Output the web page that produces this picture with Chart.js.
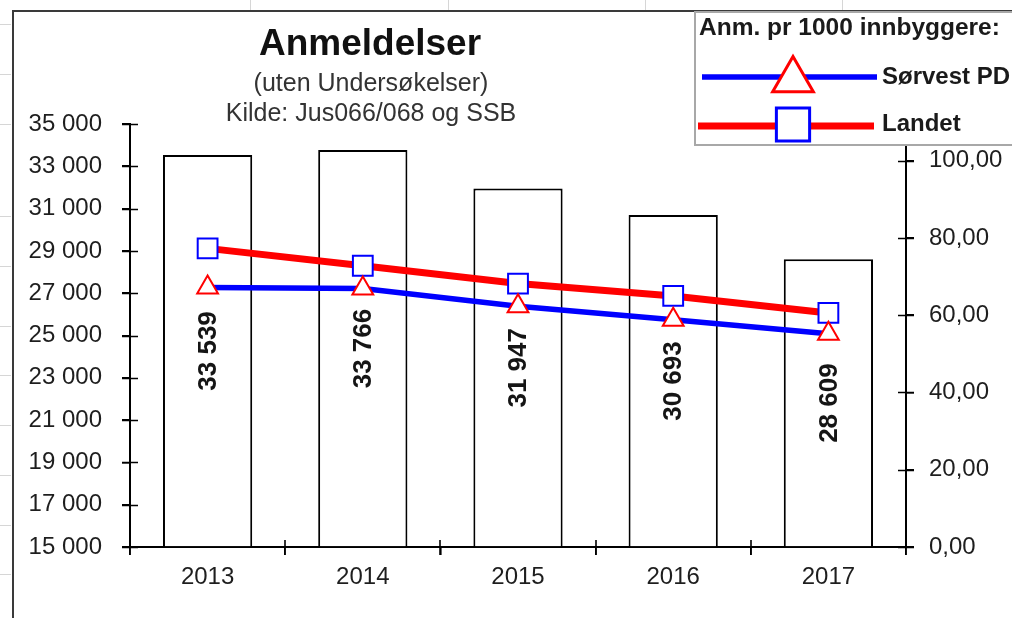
<!DOCTYPE html>
<html>
<head>
<meta charset="utf-8">
<script src="https://cdn.jsdelivr.net/npm/chart.js@4.4.1/dist/chart.umd.min.js"></script>
<style>
  html, body { margin: 0; padding: 0; background: #fff; overflow: hidden; }
  canvas { display: block; }
</style>
</head>
<body>
<canvas id="chart" width="1012" height="618"></canvas>
<script>
// --- data ---
const years = ['2013', '2014', '2015', '2016', '2017'];
const anmeldelser = [33539, 33766, 31947, 30693, 28609];
const sorvestPD = [67.2, 66.9, 62.3, 58.8, 55.2];
const landet = [77.3, 72.8, 68.2, 65.0, 60.6];
const leftRange = [15000, 35000, 2000];
const rightRange = [0, 109.5, 20];
const titleText = 'Anmeldelser';
const subtitleLines = ['(uten Undersøkelser)', 'Kilde: Jus066/068 og SSB'];
const legendTitle = 'Anm. pr 1000 innbyggere:';
const seriesNames = ['Sørvest PD', 'Landet'];

const FONT = "'Liberation Sans', Arial, sans-serif";
const fmtThousands = v => String(Math.round(v)).replace(/\B(?=(\d{3})+(?!\d))/g, ' ');
const fmtRate = v => v.toFixed(2).replace('.', ',');

// little helper for the marker shapes (legend uses bigger ones)
function marker(ctx, style, x, y, r, stroke, lw) {
    ctx.save();
    ctx.beginPath();
    if (style === 'triangle') {
        for (let k = 0; k < 3; k++) {
            const a = k * 2 * Math.PI / 3;
            const px = x + Math.sin(a) * r, py = y - Math.cos(a) * r;
            k ? ctx.lineTo(px, py) : ctx.moveTo(px, py);
        }
        ctx.closePath();
    } else {
        const s = Math.SQRT1_2 * r;
        ctx.rect(x - s, y - s, 2 * s, 2 * s);
    }
    ctx.fillStyle = '#fff';
    ctx.fill();
    ctx.lineWidth = lw;
    ctx.strokeStyle = stroke;
    ctx.stroke();
    ctx.restore();
}

const sheetPlugin = {
    id: 'sheet',
    beforeDraw(chart) {
        const ctx = chart.ctx;
        ctx.save();
        ctx.fillStyle = '#fff';
        ctx.fillRect(0, 0, chart.width, chart.height);
        // faint spreadsheet grid peeking round the chart object
        ctx.strokeStyle = '#d6d6d6';
        ctx.lineWidth = 1;
        [250, 448, 645, 842].forEach(x => {
            ctx.beginPath(); ctx.moveTo(x + 0.5, 0); ctx.lineTo(x + 0.5, 11); ctx.stroke();
        });
        [24, 74, 124, 216, 266, 326, 375, 425, 475, 525, 574].forEach(y => {
            ctx.beginPath(); ctx.moveTo(0, y + 0.5); ctx.lineTo(11, y + 0.5); ctx.stroke();
        });
        // chart object frame
        ctx.strokeStyle = '#3a3a3a';
        ctx.lineWidth = 2;
        ctx.beginPath();
        ctx.moveTo(13, chart.height);
        ctx.lineTo(13, 11);
        ctx.lineTo(chart.width, 11);
        ctx.stroke();
        ctx.restore();
    }
};

const crossTicksPlugin = {
    id: 'crossTicks',
    beforeDatasetsDraw(chart) {
        const ctx = chart.ctx;
        const { left, right, bottom } = chart.chartArea;
        const { x, y, y1 } = chart.scales;
        ctx.save();
        ctx.strokeStyle = '#000';
        ctx.lineWidth = 1.6;
        ctx.beginPath();
        y.ticks.forEach(t => {
            const p = Math.round(y.getPixelForValue(t.value)) + 0.5;
            ctx.moveTo(left - 8, p); ctx.lineTo(left + 8, p);
        });
        y1.ticks.forEach(t => {
            const p = Math.round(y1.getPixelForValue(t.value)) + 0.5;
            ctx.moveTo(right - 8, p); ctx.lineTo(right + 8, p);
        });
        for (let i = 0; i <= years.length; i++) {
            const p = Math.round(x.getPixelForValue(i - 0.5));
            ctx.moveTo(p, bottom - 7); ctx.lineTo(p, bottom + 8);
        }
        ctx.stroke();
        ctx.restore();
    }
};

const barLabelPlugin = {
    id: 'barLabels',
    afterDatasetsDraw(chart) {
        const ctx = chart.ctx;
        const meta = chart.getDatasetMeta(0);
        const base = chart.scales.y.getPixelForValue(leftRange[0]);
        ctx.save();
        ctx.font = 'bold 26px ' + FONT;
        ctx.fillStyle = '#151515';
        ctx.textAlign = 'center';
        ctx.textBaseline = 'middle';
        meta.data.forEach((bar, i) => {
            ctx.save();
            ctx.translate(bar.x, (bar.y + base) / 2);
            ctx.rotate(-Math.PI / 2);
            ctx.fillText(fmtThousands(anmeldelser[i]), 0, 1);
            ctx.restore();
        });
        ctx.restore();
    }
};

const headingPlugin = {
    id: 'headings',
    afterDraw(chart) {
        const ctx = chart.ctx;
        ctx.save();
        ctx.textAlign = 'center';
        ctx.textBaseline = 'middle';
        ctx.fillStyle = '#111';
        ctx.font = 'bold 37px ' + FONT;
        ctx.fillText(titleText, 370, 45);
        ctx.fillStyle = '#333';
        ctx.font = '25px ' + FONT;
        ctx.fillText(subtitleLines[0], 371, 84);
        ctx.fillText(subtitleLines[1], 371, 114);

        // legend box, top right, partly cut off like the screenshot
        ctx.fillStyle = '#fff';
        ctx.fillRect(695, 12, 330, 133);
        ctx.strokeStyle = '#a8a8a8';
        ctx.lineWidth = 2;
        ctx.strokeRect(695, 12, 330, 133);
        ctx.textAlign = 'left';
        ctx.fillStyle = '#1a1a1a';
        ctx.font = 'bold 24.5px ' + FONT;
        ctx.fillText(legendTitle, 699, 28);

        const rows = [
            { ds: chart.data.datasets[2], y: 77, x0: 702, x1: 877 },
            { ds: chart.data.datasets[1], y: 126, x0: 698, x1: 874 }
        ];
        rows.forEach((r, i) => {
            ctx.strokeStyle = r.ds.borderColor;
            ctx.lineWidth = r.ds.borderWidth;
            ctx.beginPath();
            ctx.moveTo(r.x0, r.y); ctx.lineTo(r.x1, r.y);
            ctx.stroke();
            marker(ctx, r.ds.pointStyle, 793, i ? 124.5 : 80, 23.5, r.ds.pointBorderColor, 3);
            ctx.fillStyle = '#1a1a1a';
            ctx.font = 'bold 24px ' + FONT;
            ctx.fillText(seriesNames[i], 882, i ? 124 : 77);
        });
        ctx.restore();
    }
};

new Chart(document.getElementById('chart'), {
    data: {
        labels: years,
        datasets: [
            {
                type: 'bar',
                label: 'Anmeldelser',
                data: anmeldelser,
                yAxisID: 'y',
                base: leftRange[0],
                backgroundColor: '#ffffff',
                borderColor: '#000000',
                borderWidth: 2,
                barPercentage: 0.575,
                categoryPercentage: 1,
                order: 3
            },
            {
                type: 'line',
                label: seriesNames[1],
                data: landet,
                yAxisID: 'y1',
                borderColor: '#ff0000',
                borderWidth: 7,
                tension: 0,
                pointStyle: 'rect',
                pointRadius: 14,
                pointBorderWidth: 2,
                pointBorderColor: '#0000ff',
                pointBackgroundColor: '#ffffff',
                order: 2
            },
            {
                type: 'line',
                label: seriesNames[0],
                data: sorvestPD,
                yAxisID: 'y1',
                borderColor: '#0000ff',
                borderWidth: 5.5,
                tension: 0,
                pointStyle: 'triangle',
                pointRadius: 12,
                pointBorderWidth: 2,
                pointBorderColor: '#ff0000',
                pointBackgroundColor: '#ffffff',
                order: 1
            }
        ]
    },
    options: {
        responsive: false,
        animation: false,
        devicePixelRatio: 1,
        layout: { padding: { top: 124, left: 0, right: 0, bottom: 0 } },
        plugins: {
            legend: { display: false },
            title: { display: false },
            tooltip: { enabled: false }
        },
        scales: {
            x: {
                offset: true,
                afterFit(s) { s.height = 71; },
                grid: { display: true, offset: true, drawOnChartArea: false, tickLength: 8, color: '#000', lineWidth: 1.6 },
                border: { display: true, color: '#000', width: 2 },
                ticks: { padding: 8, color: '#1e1e1e', font: { family: FONT, size: 24 } }
            },
            y: {
                position: 'left',
                min: leftRange[0],
                max: leftRange[1],
                afterFit(s) { s.width = 130; },
                grid: { display: true, drawOnChartArea: false, tickLength: 8, color: '#000', lineWidth: 1.6 },
                border: { display: true, color: '#000', width: 2 },
                ticks: {
                    stepSize: leftRange[2],
                    padding: 20,
                    color: '#1e1e1e',
                    font: { family: FONT, size: 24 },
                    callback: v => fmtThousands(v)
                }
            },
            y1: {
                position: 'right',
                min: rightRange[0],
                max: rightRange[1],
                afterFit(s) { s.width = 106; },
                grid: { display: true, drawOnChartArea: false, tickLength: 8, color: '#000', lineWidth: 1.6 },
                border: { display: true, color: '#000', width: 2 },
                ticks: {
                    stepSize: rightRange[2],
                    includeBounds: false,
                    padding: 15,
                    color: '#1e1e1e',
                    font: { family: FONT, size: 24 },
                    callback: v => fmtRate(v)
                }
            }
        }
    },
    plugins: [sheetPlugin, crossTicksPlugin, barLabelPlugin, headingPlugin]
});
</script>
</body>
</html>
